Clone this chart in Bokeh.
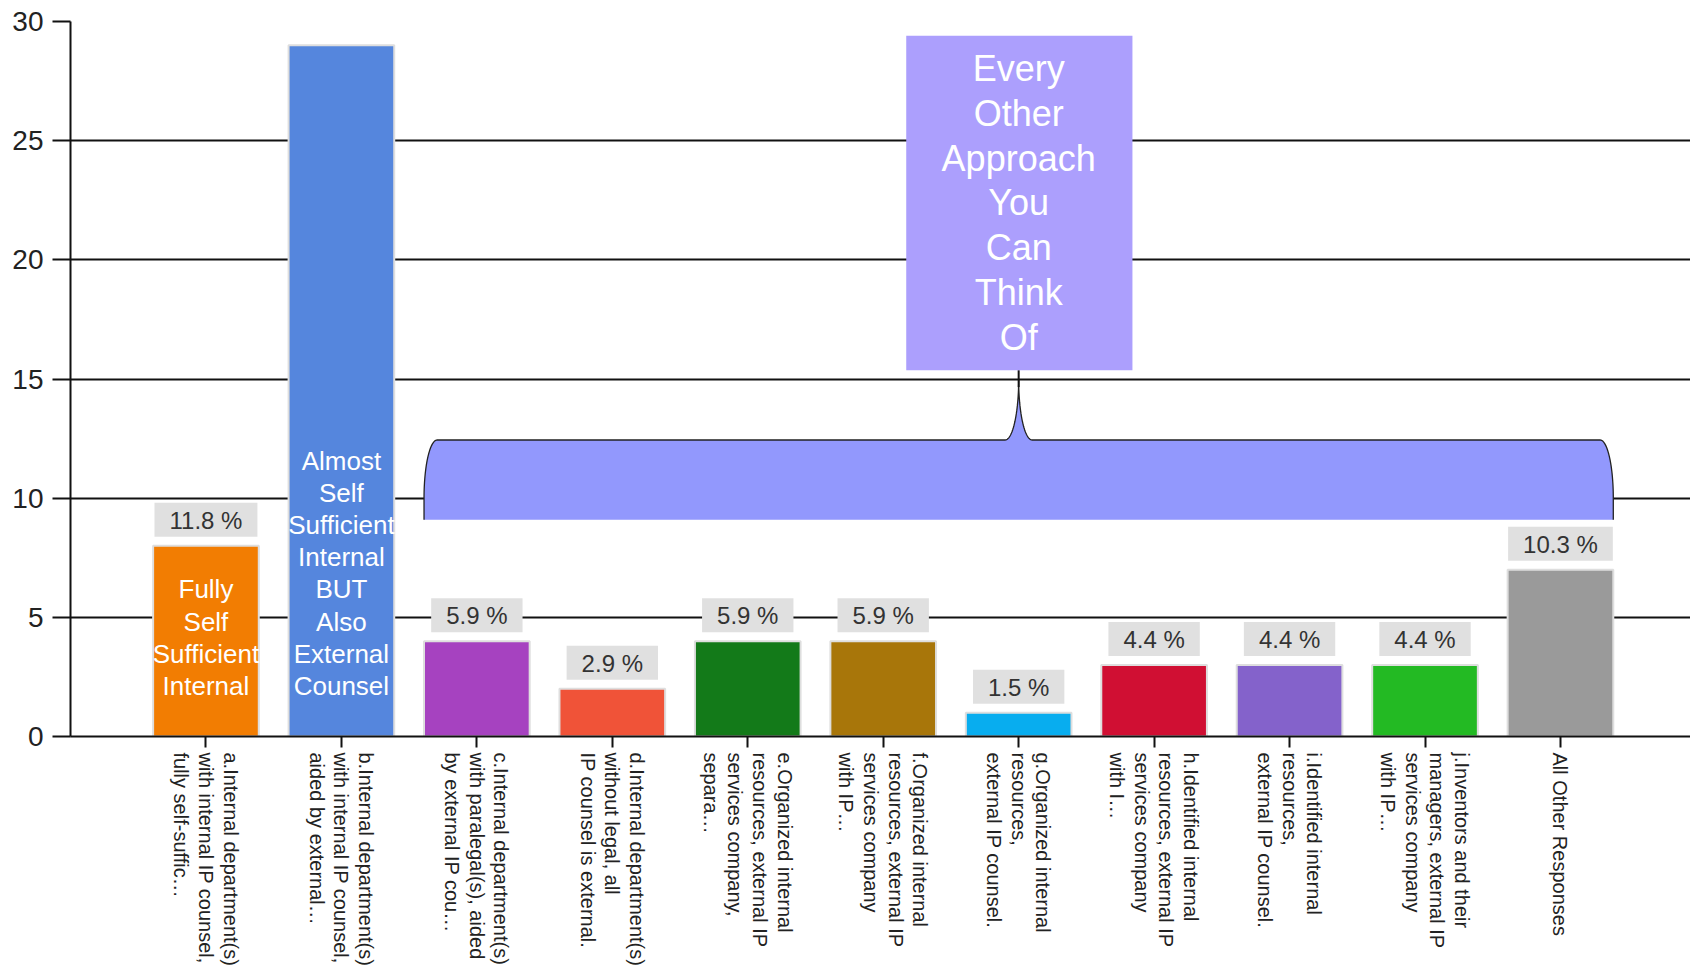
import math
import numpy as np
from bokeh.plotting import figure
from bokeh.models import FixedTicker, BoxAnnotation, Label, ColumnDataSource, Range1d
from bokeh.core.properties import value
from bokeh.embed import file_html
from bokeh.resources import INLINE

# ---------------- data ----------------
categories = [
    "a.Internal department(s)\nwith internal IP counsel,\nfully self-suffic\u2026",
    "b.Internal department(s)\nwith internal IP counsel,\naided by external\u2026",
    "c.Internal department(s)\nwith paralegal(s), aided\nby external IP cou\u2026",
    "d.Internal department(s)\nwithout legal, all\nIP counsel is external.",
    "e.Organized internal\nresources, external IP\nservices company,\nsepara\u2026",
    "f.Organized internal\nresources, external IP\nservices company\nwith IP\u2026",
    "g.Organized internal\nresources,\nexternal IP counsel.",
    "h.Identified internal\nresources, external IP\nservices company\nwith I\u2026",
    "i.Identified internal\nresources,\nexternal IP counsel.",
    "j.Inventors and their\nmanagers, external IP\nservices company\nwith IP\u2026",
    "All Other Responses",
]
counts = [8, 29, 4, 2, 4, 4, 1, 3, 3, 3, 7]
pct_labels = ["11.8 %", "", "5.9 %", "2.9 %", "5.9 %", "5.9 %", "1.5 %", "4.4 %", "4.4 %", "4.4 %", "10.3 %"]
bar_colors = ["#f27d02", "#5586dd", "#a642c0", "#f05338", "#137a19", "#a8760a",
              "#08adef", "#d00f33", "#8462cb", "#23ba23", "#9a9a9a"]
y_ticks = [0, 5, 10, 15, 20, 25, 30]
inner_labels = {0: "Fully\nSelf\nSufficient\nInternal",
                1: "Almost\nSelf\nSufficient\nInternal\nBUT\nAlso\nExternal\nCounsel"}
callout_text = "Every\nOther\nApproach\nYou\nCan\nThink\nOf"

FONT = "Liberation Sans"
BAR_W = 0.78

xs = [i + 1 for i in range(len(categories))]

p = figure(width=1690, height=968, output_backend="svg", toolbar_location=None,
           x_range=Range1d(0, 11.96), y_range=Range1d(0, 30),
           min_border_left=70, min_border_right=0, min_border_top=21, min_border_bottom=231)
p.outline_line_color = None
p.background_fill_color = "white"
p.border_fill_color = "white"

# grid
p.xgrid.visible = False
p.ygrid.ticker = FixedTicker(ticks=y_ticks)
p.ygrid.grid_line_color = "#111111"
p.ygrid.grid_line_width = 2

# y axis
p.yaxis.ticker = FixedTicker(ticks=y_ticks)
p.yaxis.axis_line_color = "#111111"
p.yaxis.axis_line_width = 2
p.yaxis.major_tick_line_color = "#111111"
p.yaxis.major_tick_line_width = 2
p.yaxis.major_tick_out = 18
p.yaxis.major_tick_in = 0
p.yaxis.minor_tick_line_color = None
p.yaxis.major_label_standoff = 9
p.yaxis.major_label_text_font = FONT
p.yaxis.major_label_text_font_size = "28px"
p.yaxis.major_label_text_color = "#222222"

# x axis
p.xaxis.ticker = FixedTicker(ticks=xs)
p.xaxis.major_label_overrides = {x: c for x, c in zip(xs, categories)}
p.xaxis.major_label_orientation = -math.pi / 2
p.xaxis.axis_line_color = "#111111"
p.xaxis.axis_line_width = 2
p.xaxis.major_tick_line_color = "#111111"
p.xaxis.major_tick_line_width = 2
p.xaxis.major_tick_out = 11
p.xaxis.major_tick_in = 0
p.xaxis.minor_tick_line_color = None
p.xaxis.major_label_standoff = 5
p.xaxis.major_label_text_font = FONT
p.xaxis.major_label_text_font_size = "20px"
p.xaxis.major_label_text_color = "#222222"
p.xaxis.major_label_text_line_height = 1.12

# brace (decoration) spanning bars c .. All Other
xl = xs[2] - BAR_W / 2
xr = xs[-1] + BAR_W / 2
xt = (xl + xr) / 2
yb, yt = 9.09, 12.44
rx, ry = 0.097, 2.43
srx, sry = 0.1, 2.52
box_l, box_r, box_b, box_t = xt - 0.83, xt + 0.84, 15.37, 29.4

t = np.linspace(0, math.pi / 2, 30)
px = [xl]; py = [yb]
px += list(xl + rx + rx * np.cos(math.pi - t)); py += list(yt - ry + ry * np.sin(math.pi - t))
px += list(xt - srx + srx * np.sin(t)); py += list(yt + sry - sry * np.cos(t))
px += list(xt + srx - srx * np.sin(t[::-1])); py += list(yt + sry - sry * np.cos(t[::-1]))
px += list(xr - rx + rx * np.cos(t[::-1])); py += list(yt - ry + ry * np.sin(t[::-1]))
px += [xr]; py += [yb]

p.patch(px, py, fill_color="#9298fd", line_color=None)
p.line(px, py, line_color="#222222", line_width=1.3)
p.line([xt, xt], [yt + sry - 0.3, box_b], line_color="#111111", line_width=2)

p.add_layout(BoxAnnotation(left=box_l, right=box_r, bottom=box_b, top=box_t,
                           fill_color="#ac9ffd", fill_alpha=1.0, line_color=None, level="glyph"))
p.add_layout(Label(x=xt, y=(box_b + box_t) / 2, text=callout_text, text_align="center",
                   text_baseline="middle", text_color="white", text_font=FONT,
                   text_font_size="36px", text_line_height=1.09))

# bars
src = ColumnDataSource(dict(x=xs, counts=counts, color=bar_colors, pct=pct_labels))
p.vbar(x="x", top="counts", width=BAR_W, bottom=0, fill_color="color",
       line_color="#dedede", line_width=2, source=src)

# percentage labels (skip empty)
keep = [i for i, s in enumerate(pct_labels) if s]
lsrc = ColumnDataSource(dict(x=[xs[i] for i in keep], y=[counts[i] for i in keep],
                             t=[pct_labels[i] for i in keep]))
p.text(x="x", y="y", text="t", source=lsrc, text_align="center", text_baseline="bottom",
       y_offset=-9, text_font=value(FONT), text_font_size="24px", text_color="#333333",
       background_fill_color="#e0e0e0", padding=dict(left=15, right=15, top=4, bottom=3))

# inner white labels
for i, txt in inner_labels.items():
    p.add_layout(Label(x=xs[i], y=1.5, text=txt, text_align="center", text_baseline="bottom",
                       text_color="white", text_font=FONT, text_font_size="26px",
                       text_line_height=1.07))

open("out.html", "w").write(file_html(p, INLINE))
